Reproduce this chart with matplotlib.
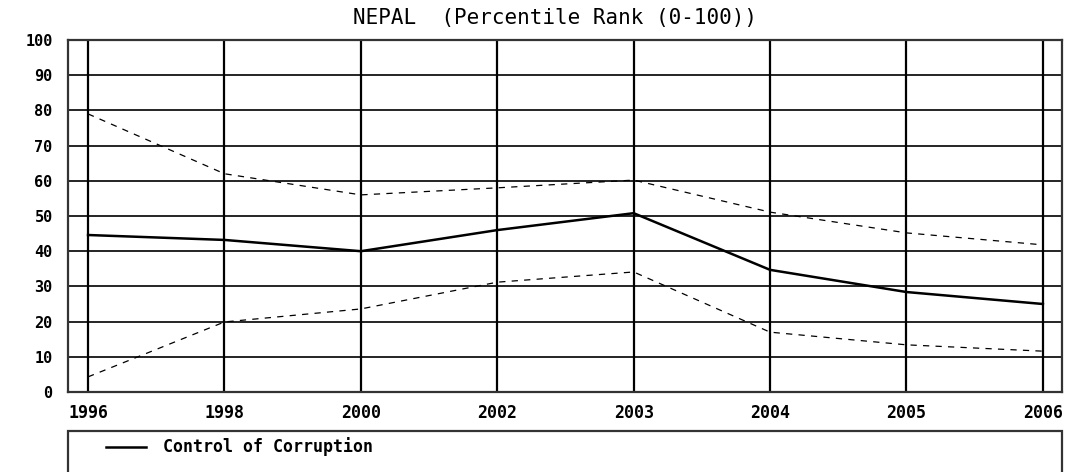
import matplotlib
matplotlib.use("Agg")
import matplotlib.pyplot as plt
from matplotlib.patches import Rectangle
from matplotlib.lines import Line2D

years = ["1996", "1998", "2000", "2002", "2003", "2004", "2005", "2006"]
estimate = [44.6, 43.2, 40.0, 46.0, 50.8, 34.7, 28.4, 25.0]
upper_bound = [79.0, 62.0, 56.0, 58.0, 60.2, 51.1, 45.2, 41.8]
lower_bound = [4.3, 19.9, 23.6, 31.2, 34.1, 17.0, 13.4, 11.6]
y_ticks = list(range(0, 101, 10))

mono = "DejaVu Sans Mono"

fig = plt.figure(figsize=(10.67, 4.72), dpi=100)
ax = fig.add_axes([68 / 1067, 1 - 392 / 472, (1062 - 68) / 1067, (392 - 40) / 472])

x = list(range(len(years)))
ax.set_xlim(-0.147, len(years) - 1 + 0.14)
ax.set_ylim(0, 100)

# grid
for yv in y_ticks:
    ax.axhline(yv, color="black", lw=1.2, zorder=1)
for xv in x:
    ax.axvline(xv, color="black", lw=1.6, zorder=1)

ax.plot(x, upper_bound, color="black", lw=0.9, ls=(0, (5, 5)), zorder=3)
ax.plot(x, lower_bound, color="black", lw=0.9, ls=(0, (5, 5)), zorder=3)
ax.plot(x, estimate, color="black", lw=1.8, zorder=4)

for s in ax.spines.values():
    s.set_linewidth(1.6)
    s.set_color("#333333")

ax.set_xticks(x)
ax.set_xticklabels(years, fontfamily=mono, fontweight="bold", fontsize=12)
ax.set_yticks(y_ticks)
ax.set_yticklabels([str(v) for v in y_ticks], fontfamily=mono, fontweight="bold", fontsize=11)
ax.tick_params(axis="y", length=0, pad=11)
ax.tick_params(axis="x", length=0, pad=9)

fig.text(555 / 1067, 1 - 18 / 472, "NEPAL  (Percentile Rank (0-100))",
         fontfamily=mono, fontsize=15, ha="center", va="center")

# legend box below the plot
box = Rectangle((68 / 1067, -0.05), (1062 - 68) / 1067, 0.05 + (472 - 431) / 472,
                transform=fig.transFigure, fill=False, edgecolor="#333333", lw=1.6)
fig.add_artist(box)
fig.add_artist(Line2D([106 / 1067, 146 / 1067], [1 - 447 / 472, 1 - 447 / 472],
                      transform=fig.transFigure, color="black", lw=1.8))
fig.text(163 / 1067, 1 - 447 / 472, "Control of Corruption",
         fontfamily=mono, fontweight="bold", fontsize=12, ha="left", va="center")

fig.savefig("out.png", dpi=100)
